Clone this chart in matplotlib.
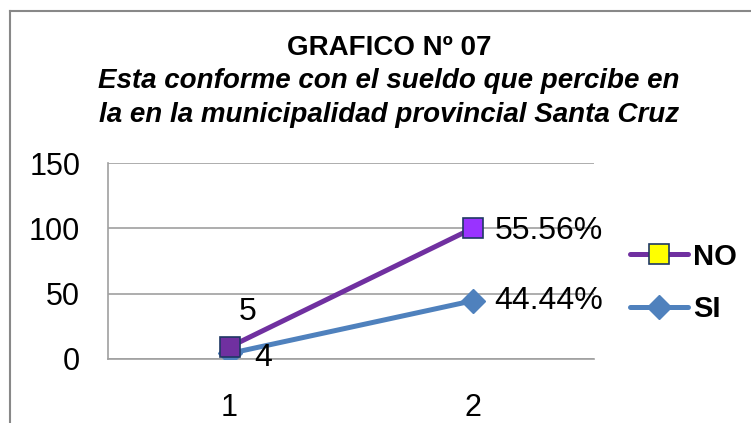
import matplotlib
matplotlib.use("Agg")
import matplotlib.pyplot as plt
import numpy as np
from matplotlib.lines import Line2D

# data (stacked line chart: NO is drawn on top of SI)
categories = [1, 2]
si_values = [4, 44.44]
no_values = [5, 55.56]
si_labels = ["4", "44.44%"]
no_labels = ["5", "55.56%"]

purple = "#7030A0"
bright_purple = "#9933FF"
blue = "#4F81BD"
navy = "#1F3864"
grid_gray = "#A0A0A0"

plt.rcParams["font.family"] = ["Liberation Sans", "DejaVu Sans"]

fig = plt.figure(figsize=(7.51, 4.23), dpi=100, facecolor="white")
ax = fig.add_axes([108 / 751, 1 - 358.7 / 423, 486 / 751, 195.4 / 423])

x = np.array(categories)
si = np.array(si_values)
no_stack = si + np.array(no_values)

ax.plot(x, si, color=blue, lw=3.6, marker="D", ms=12, mfc=blue, mec=blue,
        solid_capstyle="round", zorder=3)
ax.plot(x, no_stack, color=purple, lw=3.6, zorder=4)
ax.plot(x[:1], no_stack[:1], ls="none", marker="s", ms=14, mfc=purple,
        mec=navy, mew=1.2, zorder=5)
ax.plot(x[1:], no_stack[1:], ls="none", marker="s", ms=14, mfc=bright_purple,
        mec=navy, mew=1.2, zorder=5)

# data labels
lbl = 23
ax.annotate(no_labels[0], (x[0], no_stack[0]), xytext=(13, 25), textcoords="offset points",
            ha="center", va="center", fontsize=lbl)
ax.annotate(si_labels[0], (x[0], si[0]), xytext=(24, -3), textcoords="offset points",
            ha="center", va="center", fontsize=lbl)
ax.annotate(no_labels[1], (x[1], no_stack[1]), xytext=(16, -1.5), textcoords="offset points",
            ha="left", va="center", fontsize=lbl)
ax.annotate(si_labels[1], (x[1], si[1]), xytext=(16, 0), textcoords="offset points",
            ha="left", va="center", fontsize=lbl)

ax.set_xlim(0.5, 2.5)
ax.set_ylim(0, 150)
ax.set_yticks([0, 50, 100, 150])
ax.set_xticks(categories)
ax.tick_params(axis="both", length=0, labelsize=22)
ax.tick_params(axis="x", pad=25)
ax.tick_params(axis="y", pad=20)
ax.yaxis.grid(True, color=grid_gray, lw=1.2)
ax.set_axisbelow(True)
for side in ["top", "right"]:
    ax.spines[side].set_visible(False)
for side in ["left", "bottom"]:
    ax.spines[side].set_color(grid_gray)
    ax.spines[side].set_linewidth(1.2)

# legend
handles = [
    Line2D([], [], color=purple, lw=3.6, marker="s", ms=14, mfc="#FFFF00", mec=navy, mew=1.2,
           solid_capstyle="round"),
    Line2D([], [], color=blue, lw=3.6, marker="D", ms=12, mfc=blue, mec=blue,
           solid_capstyle="round"),
]
leg = fig.legend(handles, ["NO", "SI"], loc="center left", bbox_to_anchor=(630 / 751, 1 - 283 / 423),
                 frameon=False, handlelength=2.0, handletextpad=0.15, labelspacing=0.85,
                 borderpad=0, borderaxespad=0,
                 prop={"size": 21, "weight": "bold"})

# titles
fig.text(389 / 751, 1 - 48 / 423, "GRAFICO Nº 07", ha="center", va="center",
         fontsize=20, fontweight="bold")
fig.text(389 / 751, 1 - 98 / 423,
         "Esta conforme con el sueldo que percibe en\nla en la municipalidad provincial Santa Cruz",
         ha="center", va="center", fontsize=20, fontweight="bold", fontstyle="italic",
         linespacing=1.4)

# chart area border
fig.add_artist(Line2D([9.5 / 751, 9.5 / 751], [0, 1 - 11.5 / 423], color="#888888", lw=1.5,
                      transform=fig.transFigure))
fig.add_artist(Line2D([9.5 / 751, 1], [1 - 11.5 / 423, 1 - 11.5 / 423], color="#888888", lw=1.5,
                      transform=fig.transFigure))

fig.savefig("out.png", dpi=100)
plt.close(fig)
